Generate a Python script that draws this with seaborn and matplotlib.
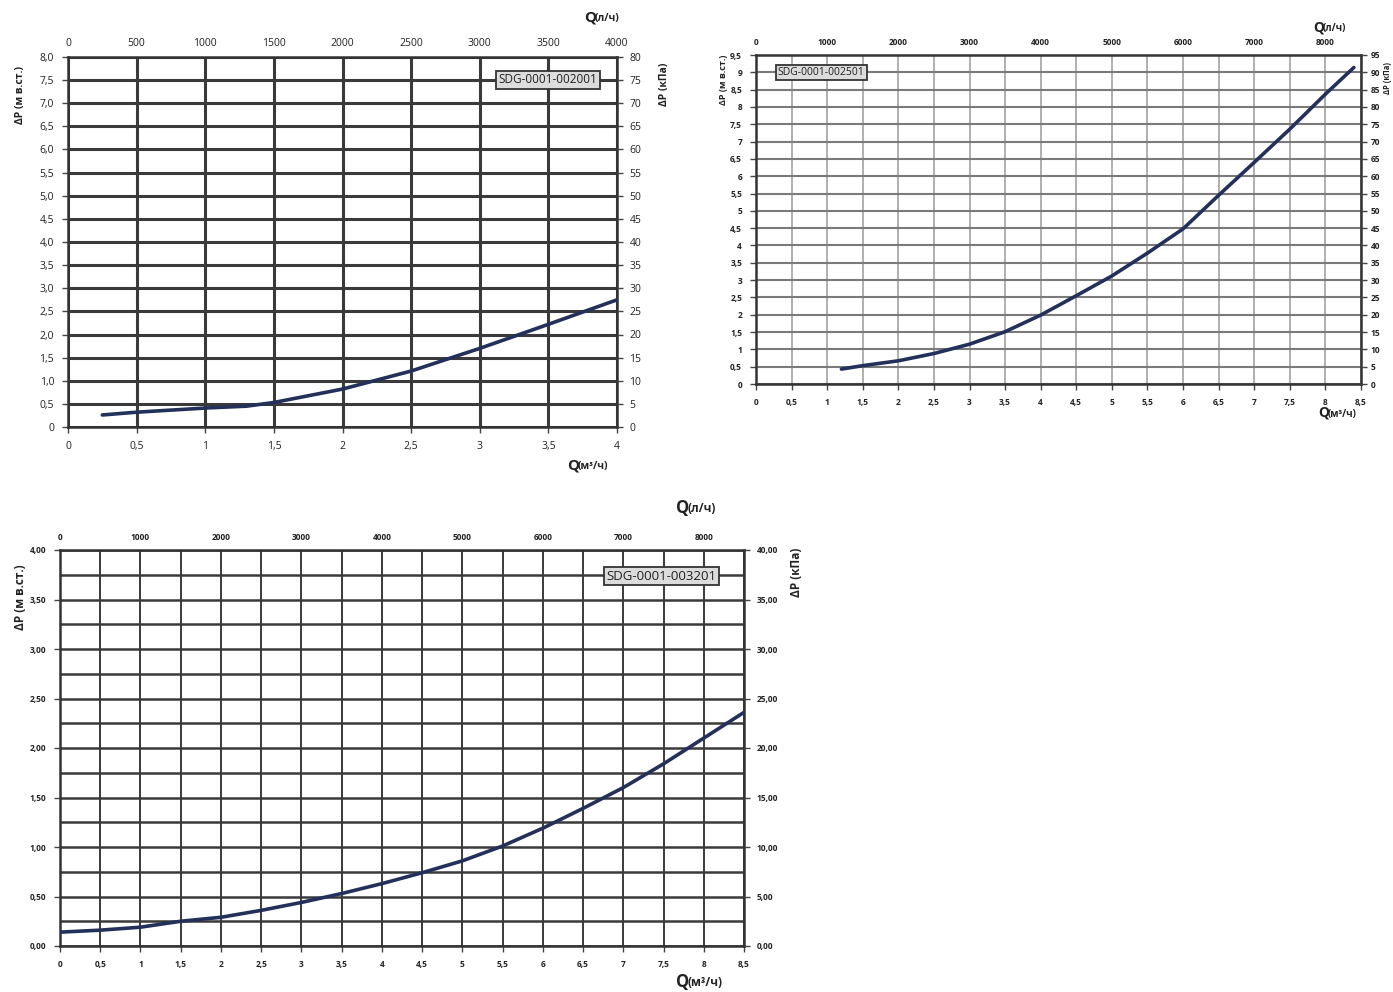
import matplotlib
matplotlib.use("Agg")
import matplotlib.pyplot as plt
import seaborn as sns
import pandas as pd
from matplotlib.ticker import MultipleLocator, FuncFormatter

sns.set_style("white")
plt.rcParams['font.family'] = ['Open Sans', 'DejaVu Sans']

# ---------------- data ----------------
c1_q = [0.25, 0.5, 1.0, 1.3, 1.5, 2.0, 2.5, 3.0, 3.5, 4.0]
c1_dp = [0.26, 0.32, 0.41, 0.45, 0.53, 0.82, 1.21, 1.70, 2.22, 2.75]
c1_name = "SDG-0001-002001"

c2_q = [1.2, 1.5, 2.0, 2.5, 3.0, 3.5, 4.0, 4.5, 5.0, 5.5, 6.0, 6.5, 7.0, 7.5, 8.0, 8.4]
c2_dp = [0.43, 0.53, 0.67, 0.88, 1.15, 1.51, 1.99, 2.55, 3.12, 3.78, 4.48, 5.45, 6.40, 7.36, 8.37, 9.14]
c2_name = "SDG-0001-002501"

c3_q = [0.0, 0.5, 1.0, 1.5, 2.0, 2.5, 3.0, 3.5, 4.0, 4.5, 5.0, 5.5, 6.0, 6.5, 7.0, 7.5, 8.0, 8.5]
c3_dp = [0.14, 0.16, 0.19, 0.25, 0.29, 0.36, 0.44, 0.53, 0.63, 0.74, 0.86, 1.01, 1.19, 1.39, 1.60, 1.84, 2.10, 2.36]
c3_name = "SDG-0001-003201"

y_label_left = "ΔP (м в.ст.)"
y_label_right = "ΔP (кПа)"
q_top_unit = "(л/ч)"
q_bottom_unit = "(м³/ч)"

W, H = 1393, 992
fig = plt.figure(figsize=(W / 100, H / 100), dpi=100)
fig.patch.set_facecolor("white")

CURVE = "#22305a"


def rect(l, t, r, b):
    return [l / W, 1 - b / H, (r - l) / W, (b - t) / H]


def px(x, y):
    return x / W, 1 - y / H


def g_comma(v, p):
    s = f"{v:g}"
    return s.replace(".", ",")


def one_dec(v, p):
    if abs(v) < 1e-9:
        return "0"
    return f"{v:.1f}".replace(".", ",")


def two_dec(v, p):
    return f"{v:.2f}".replace(".", ",")


def int_fmt(v, p):
    return f"{v:.0f}"


def build(r, q, dp, xmax, ymax, xstep, ystep, ygrid_step, top_step,
          left_fmt, right_fmt, right_step, grid_color_v, grid_color_h,
          lw_v, lw_h, fs, weight, name, box_xy, box_fs, rpad=5):
    ax = fig.add_axes(r)
    df = pd.DataFrame({"q": q, "dp": dp})
    ax.set_xlim(0, xmax)
    ax.set_ylim(0, ymax)
    ax.xaxis.set_major_locator(MultipleLocator(xstep))
    ax.yaxis.set_major_locator(MultipleLocator(ystep))
    ax.yaxis.set_minor_locator(MultipleLocator(ygrid_step))
    ax.xaxis.set_major_formatter(FuncFormatter(g_comma))
    ax.yaxis.set_major_formatter(FuncFormatter(left_fmt))
    ax.grid(True, axis="x", which="major", color=grid_color_v, lw=lw_v)
    ax.grid(True, axis="y", which="both", color=grid_color_h, lw=lw_h)
    ax.set_axisbelow(True)
    sns.lineplot(data=df, x="q", y="dp", ax=ax, color=CURVE, lw=2.6, zorder=5)
    ax.set_xlabel("")
    ax.set_ylabel("")
    for s in ax.spines.values():
        s.set_color("#333333")
        s.set_linewidth(1.8)
    ax.tick_params(axis="both", which="major", length=4, width=1, color="#444444",
                   labelsize=fs, pad=6, direction="out", left=True, bottom=True)
    ax.tick_params(axis="y", which="minor", length=0)
    for lab in ax.get_xticklabels() + ax.get_yticklabels():
        lab.set_fontweight(weight)
        lab.set_color("#222222")

    axt = ax.twiny()
    axt.set_xlim(0, xmax * 1000)
    axt.xaxis.set_major_locator(MultipleLocator(top_step))
    axt.xaxis.set_major_formatter(FuncFormatter(int_fmt))
    axt.tick_params(axis="x", length=0, labelsize=fs, pad=6)
    for lab in axt.get_xticklabels():
        lab.set_fontweight(weight)
        lab.set_color("#222222")
    axt.grid(False)

    axr = ax.twinx()
    axr.set_ylim(0, ymax * 10)
    axr.yaxis.set_major_locator(MultipleLocator(right_step))
    axr.yaxis.set_major_formatter(FuncFormatter(right_fmt))
    axr.tick_params(axis="y", length=4, width=1, color="#444444", labelsize=fs, pad=rpad, right=True)
    for lab in axr.get_yticklabels():
        lab.set_fontweight(weight)
        lab.set_color("#222222")
    axr.grid(False)
    for a in (axt, axr):
        for s in a.spines.values():
            s.set_visible(False)

    ax.text(box_xy[0], box_xy[1], name, transform=ax.transAxes, ha="center", va="center",
            fontsize=box_fs, color="#222222", zorder=10,
            bbox=dict(boxstyle="square,pad=0.2", fc="#dcdcdc", ec="#333333", lw=1.3))
    return ax


# chart 1
build(rect(68, 57, 617, 427), c1_q, c1_dp, 4.0, 8.0, 0.5, 0.5, 0.5, 500,
      one_dec, int_fmt, 5, "#3a3a3a", "#3a3a3a", 2.2, 2.2, 7.5, "normal",
      c1_name, (0.874, 0.938), 8.5)

# chart 2
build(rect(756, 55, 1361, 384), c2_q, c2_dp, 8.5, 9.5, 0.5, 0.5, 0.5, 1000,
      g_comma, int_fmt, 5, "#9a9a9a", "#7a7a7a", 1.1, 1.5, 6, "bold",
      c2_name, (0.108, 0.948), 7.5, rpad=3)

# chart 3
build(rect(60, 550, 744, 946), c3_q, c3_dp, 8.5, 4.0, 0.5, 0.5, 0.25, 1000,
      two_dec, two_dec, 5, "#3a3a3a", "#3a3a3a", 1.4, 1.8, 6, "bold",
      c3_name, (0.879, 0.934), 9.5)


def qlabel(x, y, unit, qfs, ufs):
    fig.text(*px(x, y), "Q", fontsize=qfs, fontweight="bold", ha="left", va="center", color="#222222")
    fig.text(*px(x + qfs * 1.0, y + 1), unit, fontsize=ufs, fontweight="bold", ha="left", va="center", color="#222222")


qlabel(584, 18, q_top_unit, 11, 7.5)
qlabel(567, 466, q_bottom_unit, 11, 7.5)
qlabel(1313, 27, q_top_unit, 10, 7)
qlabel(1318, 413, q_bottom_unit, 10, 7)
qlabel(676, 508, q_top_unit, 12, 8.5)
qlabel(676, 982, q_bottom_unit, 12, 8.5)

fig.text(*px(20, 95), y_label_left, rotation=90, fontsize=7.5, fontweight="bold", ha="center", va="center", color="#222222")
fig.text(*px(664, 84), y_label_right, rotation=90, fontsize=7.5, fontweight="bold", ha="center", va="center", color="#222222")
fig.text(*px(723, 80), y_label_left, rotation=90, fontsize=6.5, fontweight="bold", ha="center", va="center", color="#222222")
fig.text(*px(1387, 78), y_label_right, rotation=90, fontsize=5.5, fontweight="bold", ha="center", va="center", color="#222222")
fig.text(*px(20, 597), y_label_left, rotation=90, fontsize=8.5, fontweight="bold", ha="center", va="center", color="#222222")
fig.text(*px(797, 572), y_label_right, rotation=90, fontsize=8.5, fontweight="bold", ha="center", va="center", color="#222222")

fig.savefig("out.png", dpi=100, facecolor="white")
